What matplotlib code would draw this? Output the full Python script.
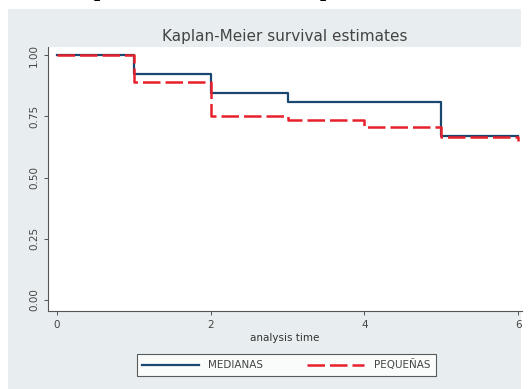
import matplotlib.pyplot as plt
from matplotlib.patches import Rectangle

# Kaplan-Meier step estimates per group
time_medianas = [0, 1, 2, 3, 5, 6]
surv_medianas = [1.0, 0.923, 0.846, 0.808, 0.67, 0.67]

time_pequenas = [0, 1, 2, 3, 4, 5, 6]
surv_pequenas = [1.0, 0.889, 0.75, 0.736, 0.708, 0.667, 0.65]

labels = ['MEDIANAS', 'PEQUEÑAS']
xticks = [0, 2, 4, 6]
yticks = [0.0, 0.25, 0.5, 0.75, 1.0]

navy = '#1a476f'
red = '#e8202a'
grey_bg = '#e8eef0'

fig = plt.figure(figsize=(5.31, 3.89), dpi=100)
fig.patch.set_facecolor('white')
# outer graph region, kept behind the axes
fig.patches.append(Rectangle((8 / 531, 0), 513 / 531, 380 / 389,
                             transform=fig.transFigure, facecolor=grey_bg,
                             edgecolor='none', zorder=-1))

# cut-off heading fragments above the graph
fig.text(100 / 531, 1.0 + 4 / 389, 'p', fontsize=16, fontweight='bold',
         family='Liberation Serif', ha='center', va='baseline')
fig.text(326 / 531, 1.0 + 4 / 389, 'p', fontsize=16, fontweight='bold',
         family='Liberation Serif', ha='center', va='baseline')

ax = fig.add_axes([48 / 531, 78 / 389, 474 / 531, 264 / 389])
ax.set_facecolor('white')

ax.step(time_medianas, surv_medianas, where='post', color=navy, lw=1.6,
        label=labels[0])
ax.step(time_pequenas, surv_pequenas, where='post', color=red, lw=1.8,
        linestyle=(0, (7, 2)), label=labels[1])

ax.set_xlim(-0.117, 6.05)
ax.set_ylim(-0.045, 1.033)
ax.set_xticks(xticks)
ax.set_yticks(yticks)
ax.set_yticklabels(['0.00', '0.25', '0.50', '0.75', '1.00'], rotation=90,
                   va='center')
ax.tick_params(labelsize=7.5, colors='#555555', labelcolor='#444444',
               length=3, width=0.7)

for side in ['top', 'right']:
    ax.spines[side].set_visible(False)
for side in ['left', 'bottom']:
    ax.spines[side].set_color('#555555')
    ax.spines[side].set_linewidth(0.8)

ax.set_title('Kaplan-Meier survival estimates', fontsize=11, color='#444444',
             pad=4)
ax.set_xlabel('analysis time', fontsize=7.5, color='#333333', labelpad=2)

leg = fig.legend(loc='center', bbox_to_anchor=(286 / 531, 1 - 365 / 389),
                 ncol=2, fontsize=7.5, frameon=True, fancybox=False,
                 handlelength=5.5, columnspacing=4.2, borderpad=0.5,
                 handletextpad=0.9)
leg.get_frame().set_edgecolor('#333333')
leg.get_frame().set_linewidth(0.8)
for t in leg.get_texts():
    t.set_color('#444444')

fig.savefig('out.png', dpi=100)
